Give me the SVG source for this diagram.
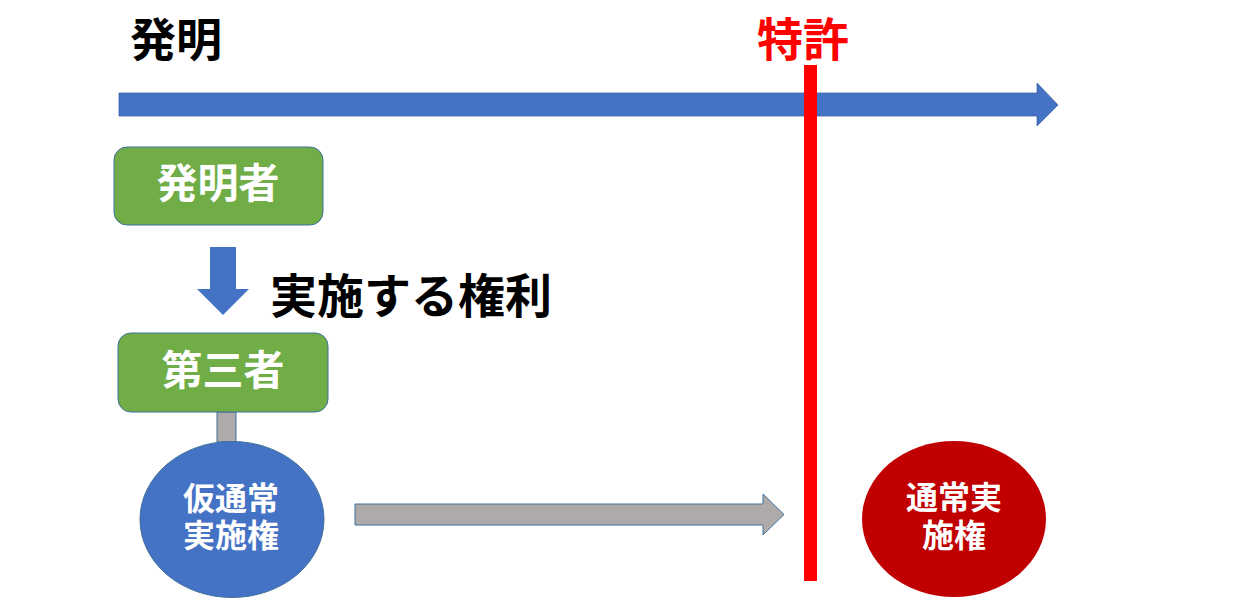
<svg xmlns="http://www.w3.org/2000/svg" width="1257" height="604" viewBox="0 0 1257 604">
<style>
text{font-family:"Noto Sans CJK JP","Noto Sans CJK SC",sans-serif;font-weight:bold;text-anchor:middle}
.w{fill:#fff}
.box{fill:#70AD47;stroke:#41719C;stroke-width:1}
</style>
<rect width="1257" height="604" fill="#fff"/>
<g id="connectors">
<path d="M119,93 H1037 V83 L1058,105 L1037,126 V116 H119 Z" fill="#4472C4" stroke="#3F64A8" stroke-width="0.8"/>
<path d="M210,247 H236 V289 H249 L223,315 L197,289 H210 Z" fill="#4472C4"/>
<rect x="217" y="412" width="19" height="30" fill="#AEAAAA" stroke="#41719C" stroke-width="1"/>
<path d="M355,504 H763 V494 L784,514.5 L763,535 V525 H355 Z" fill="#AEAAAA" stroke="#41719C" stroke-width="1"/>
</g>
<g id="label-hatsumei"><text x="176" y="56" font-size="46" fill="#000">発明</text></g>
<g id="label-tokkyo"><text x="803" y="56" font-size="46" fill="#FF0000">特許</text></g>
<g id="patent-line"><rect x="804" y="65" width="13" height="516" fill="#FF0000"/></g>
<g id="node-inventor">
<rect class="box" x="114" y="147" width="209" height="78" rx="13"/>
<text class="w" x="218" y="198" font-size="41">発明者</text>
</g>
<g id="label-right"><text x="411" y="313" font-size="47" fill="#000">実施する権利</text></g>
<g id="node-third">
<rect class="box" x="118" y="333" width="210" height="79" rx="13"/>
<text class="w" x="223" y="385" font-size="41">第三者</text>
</g>
<g id="node-provisional">
<ellipse cx="232" cy="519.5" rx="92" ry="78" fill="#4472C4" stroke="#41719C" stroke-width="1"/>
<text class="w" x="231" y="510" font-size="32">仮通常</text>
<text class="w" x="231" y="547" font-size="32">実施権</text>
</g>
<g id="node-license">
<ellipse cx="954" cy="519" rx="92" ry="78" fill="#C00000"/>
<text class="w" x="954" y="509" font-size="32">通常実</text>
<text class="w" x="954" y="547" font-size="32">施権</text>
</g>
</svg>
